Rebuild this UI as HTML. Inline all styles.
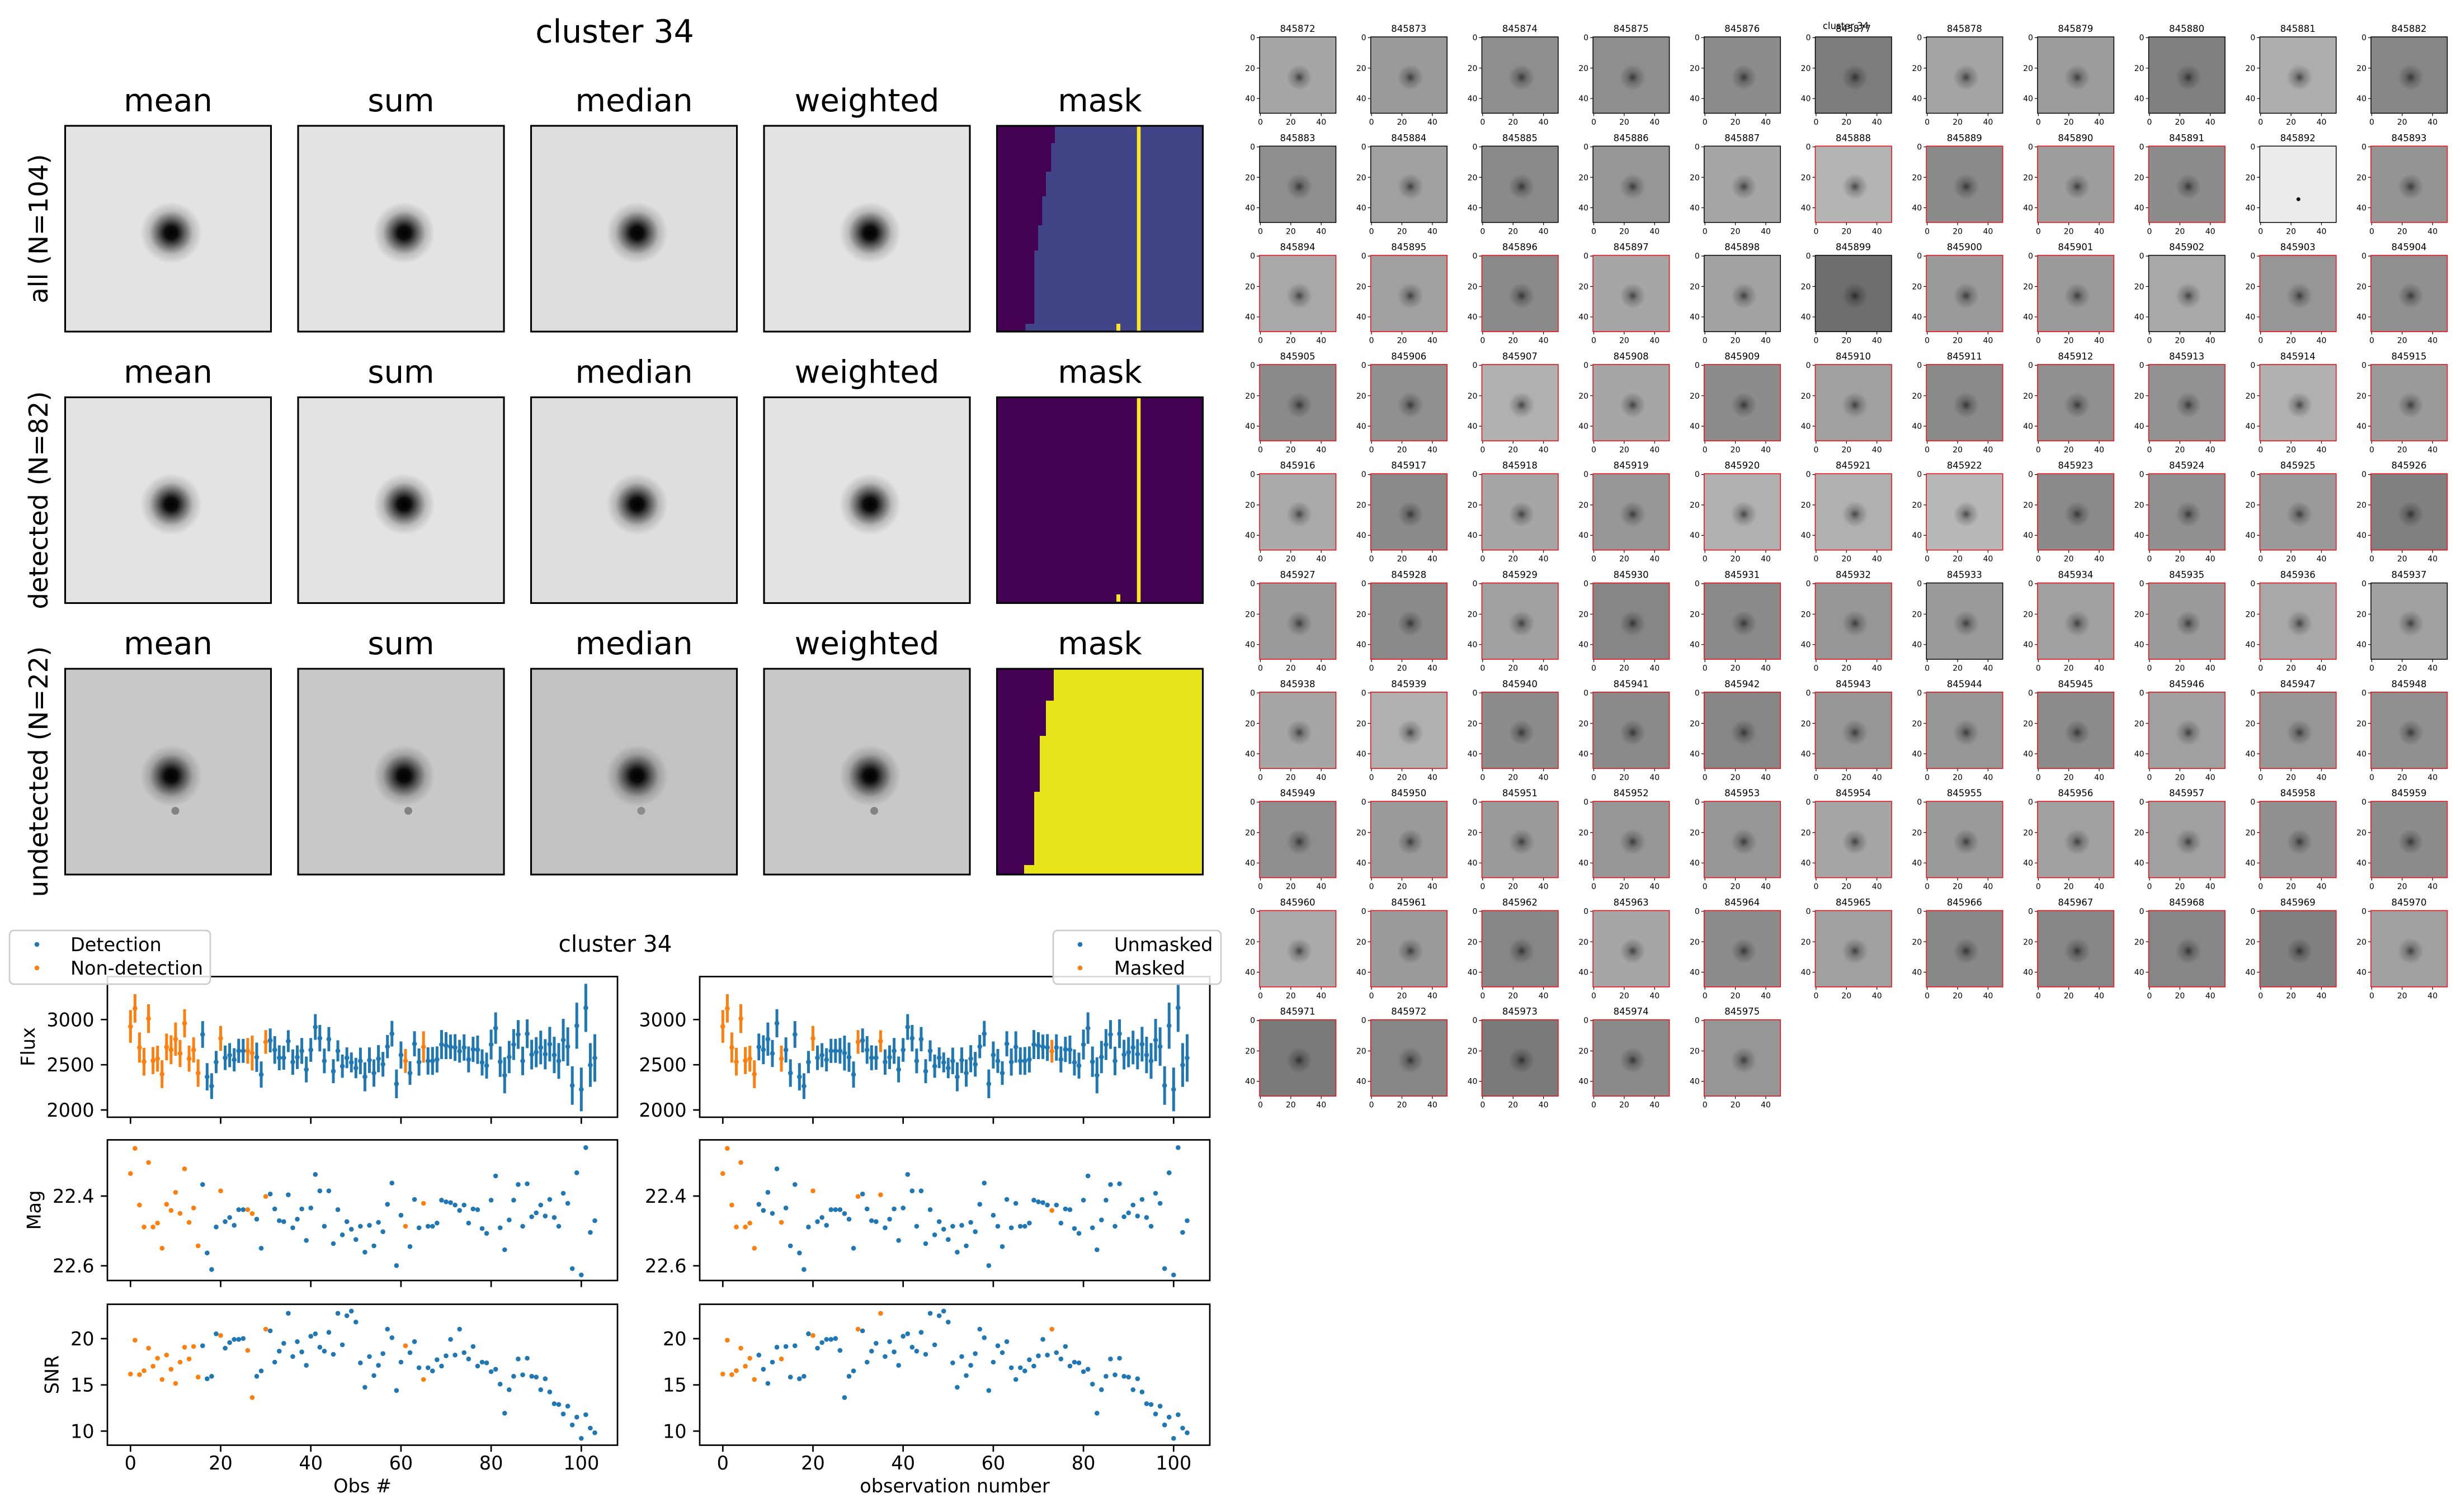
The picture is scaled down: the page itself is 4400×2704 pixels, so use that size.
<!DOCTYPE html>
<html><head><meta charset="utf-8"><style>
html,body{margin:0;padding:0;background:#fff}
svg{display:block}
text{font-family:"DejaVu Sans","Liberation Sans",sans-serif;fill:#000}
.gt{font-size:16.5px;text-anchor:middle}
.gy{font-size:14px;text-anchor:end}
.gx{font-size:14px;text-anchor:middle}
.bt{font-size:56px;text-anchor:middle}
.rl{font-size:46.4px;text-anchor:middle}
.tl{font-size:33.5px;text-anchor:end}
.xl{font-size:33.5px;text-anchor:middle}
.lg{font-size:33.5px}
</style></head><body>
<svg xmlns="http://www.w3.org/2000/svg" width="4400" height="2704" viewBox="0 0 4400 2704">
<defs>
<radialGradient id="sb" cx="0.515" cy="0.52" r="0.15">
<stop offset="0" stop-color="#000"/>
<stop offset="0.2" stop-color="#000" stop-opacity="0.95"/>
<stop offset="0.45" stop-color="#000" stop-opacity="0.55"/>
<stop offset="0.7" stop-color="#000" stop-opacity="0.18"/>
<stop offset="1" stop-color="#000" stop-opacity="0"/>
</radialGradient>
<radialGradient id="bl" cx="0.52" cy="0.53" r="0.17">
<stop offset="0" stop-color="#000" stop-opacity="0.6"/>
<stop offset="0.4" stop-color="#000" stop-opacity="0.25"/>
<stop offset="1" stop-color="#000" stop-opacity="0"/>
</radialGradient>
<rect id="bg" width="136.5" height="136.5"/>
<g id="pk"><rect width="136.5" height="136.5" fill="url(#bl)"/><path d="M0,1.4h-5M0,55.8h-5M0,110.2h-5M1.4,136.5v5M55.8,136.5v5M110.2,136.5v5" stroke="#000" stroke-width="1.2" fill="none"/><rect width="136.5" height="136.5" fill="none" stroke="#000" stroke-width="1.5"/></g>
<g id="pr"><rect width="136.5" height="136.5" fill="url(#bl)"/><path d="M0,1.4h-5M0,55.8h-5M0,110.2h-5M1.4,136.5v5M55.8,136.5v5M110.2,136.5v5" stroke="#000" stroke-width="1.2" fill="none"/><rect width="136.5" height="136.5" fill="none" stroke="#e8141c" stroke-width="1.6"/></g>
<g id="sp"><rect width="368" height="368" fill="url(#sb)"/><rect width="368" height="368" fill="none" stroke="#000" stroke-width="3.1"/></g>
</defs>

<!-- ===== Top-left stacked images ===== -->
<text class="bt" x="1099" y="76" style="font-size:56.8px">cluster 34</text>

<text class="bt" x="300.5" y="199">mean</text>
<text class="bt" x="717" y="199">sum</text>
<text class="bt" x="1133.5" y="199">median</text>
<text class="bt" x="1550" y="199">weighted</text>
<text class="bt" x="1966.5" y="199">mask</text>

<text class="bt" x="300.5" y="684.5">mean</text>
<text class="bt" x="717" y="684.5">sum</text>
<text class="bt" x="1133.5" y="684.5">median</text>
<text class="bt" x="1550" y="684.5">weighted</text>
<text class="bt" x="1966.5" y="684.5">mask</text>

<text class="bt" x="300.5" y="1170">mean</text>
<text class="bt" x="717" y="1170">sum</text>
<text class="bt" x="1133.5" y="1170">median</text>
<text class="bt" x="1550" y="1170">weighted</text>
<text class="bt" x="1966.5" y="1170">mask</text>

<text class="rl" transform="translate(85,409) rotate(-90)">all (N=104)</text>
<text class="rl" transform="translate(85,894.5) rotate(-90)">detected (N=82)</text>
<text class="rl" transform="translate(85,1380) rotate(-90)">undetected (N=22)</text>

<g transform="translate(116.5,225)"><rect width="368" height="368" fill="#e3e3e3"/><use href="#sp"/></g>
<g transform="translate(533,225)"><rect width="368" height="368" fill="#e3e3e3"/><use href="#sp"/></g>
<g transform="translate(949.5,225)"><rect width="368" height="368" fill="#dedede"/><use href="#sp"/></g>
<g transform="translate(1366,225)"><rect width="368" height="368" fill="#e3e3e3"/><use href="#sp"/></g>

<g transform="translate(116.5,710.5)"><rect width="368" height="368" fill="#e3e3e3"/><use href="#sp"/></g>
<g transform="translate(533,710.5)"><rect width="368" height="368" fill="#e3e3e3"/><use href="#sp"/></g>
<g transform="translate(949.5,710.5)"><rect width="368" height="368" fill="#dedede"/><use href="#sp"/></g>
<g transform="translate(1366,710.5)"><rect width="368" height="368" fill="#e3e3e3"/><use href="#sp"/></g>

<g transform="translate(116.5,1196)"><rect width="368" height="368" fill="#c8c8c8"/><circle cx="197" cy="254" r="7" fill="#555" opacity=".6"/><use href="#sp"/></g>
<g transform="translate(533,1196)"><rect width="368" height="368" fill="#c8c8c8"/><circle cx="197" cy="254" r="7" fill="#555" opacity=".6"/><use href="#sp"/></g>
<g transform="translate(949.5,1196)"><rect width="368" height="368" fill="#c2c2c2"/><circle cx="197" cy="254" r="7" fill="#555" opacity=".5"/><use href="#sp"/></g>
<g transform="translate(1366,1196)"><rect width="368" height="368" fill="#c8c8c8"/><circle cx="197" cy="254" r="7" fill="#555" opacity=".6"/><use href="#sp"/></g>

<!-- mask panels -->
<rect x="1782.5" y="225" width="368" height="368" fill="#414487"/>
<polygon fill="#440154" points="1782.5,225 1886,225 1886,256 1879.3,256 1879.3,307 1870,307 1870,351 1863.3,351 1863.3,403 1856,403 1856,448 1849.3,448 1849.3,579 1833.3,579 1833.3,593 1782.5,593"/>
<rect x="2032.7" y="225" width="6.6" height="368" fill="#fde725"/>
<rect x="1996" y="579" width="7" height="13" fill="#fde725"/>
<rect x="1782.5" y="225" width="368" height="368" fill="none" stroke="#000" stroke-width="3.1"/>

<rect x="1782.5" y="710.5" width="368" height="368" fill="#440154"/>
<rect x="2032.7" y="710.5" width="6.6" height="368" fill="#fde725"/>
<rect x="1996" y="1063" width="7" height="13" fill="#fde725"/>
<rect x="1782.5" y="710.5" width="368" height="368" fill="none" stroke="#000" stroke-width="3.1"/>

<rect x="1782.5" y="1196" width="368" height="368" fill="#e7e419"/>
<polygon fill="#440154" points="1782.5,1196 1884,1196 1884,1253 1870,1253 1870,1316 1859,1316 1859,1416 1849,1416 1849,1547 1831,1547 1831,1564 1782.5,1564"/>
<rect x="1782.5" y="1196" width="368" height="368" fill="none" stroke="#000" stroke-width="3.1"/>

<!-- ===== Bottom-left light curves ===== -->
<g id="plots"></g>

<g fill="none" stroke="#000" stroke-width="2.7">
<rect x="192" y="1746.5" width="912" height="251.5"/>
<rect x="192" y="2038.5" width="912" height="251.5"/>
<rect x="192" y="2332.5" width="912" height="252"/>
<rect x="1251" y="1746.5" width="912" height="251.5"/>
<rect x="1251" y="2038.5" width="912" height="251.5"/>
<rect x="1251" y="2332.5" width="912" height="252"/>
<path d="M233.3,1998v11.7M394.5,1998v11.7M555.7,1998v11.7M716.9,1998v11.7M878.1,1998v11.7M1039.3,1998v11.7
M233.3,2290v11.7M394.5,2290v11.7M555.7,2290v11.7M716.9,2290v11.7M878.1,2290v11.7M1039.3,2290v11.7
M233.3,2584.5v11.7M394.5,2584.5v11.7M555.7,2584.5v11.7M716.9,2584.5v11.7M878.1,2584.5v11.7M1039.3,2584.5v11.7
M1292.3,1998v11.7M1453.5,1998v11.7M1614.7,1998v11.7M1775.9,1998v11.7M1937.1,1998v11.7M2098.3,1998v11.7
M1292.3,2290v11.7M1453.5,2290v11.7M1614.7,2290v11.7M1775.9,2290v11.7M1937.1,2290v11.7M2098.3,2290v11.7
M1292.3,2584.5v11.7M1453.5,2584.5v11.7M1614.7,2584.5v11.7M1775.9,2584.5v11.7M1937.1,2584.5v11.7M2098.3,2584.5v11.7
M192,1823.3h-11.7M192,1904.2h-11.7M192,1985h-11.7M192,2139h-11.7M192,2263.7h-11.7M192,2394h-11.7M192,2476.7h-11.7M192,2559.3h-11.7
M1251,1823.3h-11.7M1251,1904.2h-11.7M1251,1985h-11.7M1251,2139h-11.7M1251,2263.7h-11.7M1251,2394h-11.7M1251,2476.7h-11.7M1251,2559.3h-11.7"/>
</g>

<text class="tl" x="168.6" y="1835.3">3000</text>
<text class="tl" x="168.6" y="1916.2">2500</text>
<text class="tl" x="168.6" y="1997">2000</text>
<text class="tl" x="168.6" y="2151">22.4</text>
<text class="tl" x="168.6" y="2275.7">22.6</text>
<text class="tl" x="168.6" y="2406">20</text>
<text class="tl" x="168.6" y="2488.7">15</text>
<text class="tl" x="168.6" y="2571.3">10</text>

<text class="tl" x="1227.6" y="1835.3">3000</text>
<text class="tl" x="1227.6" y="1916.2">2500</text>
<text class="tl" x="1227.6" y="1997">2000</text>
<text class="tl" x="1227.6" y="2151">22.4</text>
<text class="tl" x="1227.6" y="2275.7">22.6</text>
<text class="tl" x="1227.6" y="2406">20</text>
<text class="tl" x="1227.6" y="2488.7">15</text>
<text class="tl" x="1227.6" y="2571.3">10</text>

<text class="xl" x="233.3" y="2628">0</text>
<text class="xl" x="394.5" y="2628">20</text>
<text class="xl" x="555.7" y="2628">40</text>
<text class="xl" x="716.9" y="2628">60</text>
<text class="xl" x="878.1" y="2628">80</text>
<text class="xl" x="1039.3" y="2628">100</text>
<text class="xl" x="1292.3" y="2628">0</text>
<text class="xl" x="1453.5" y="2628">20</text>
<text class="xl" x="1614.7" y="2628">40</text>
<text class="xl" x="1775.9" y="2628">60</text>
<text class="xl" x="1937.1" y="2628">80</text>
<text class="xl" x="2098.3" y="2628">100</text>

<text class="xl" x="648" y="2669">Obs #</text>
<text class="xl" x="1707" y="2669">observation number</text>

<text class="xl" transform="translate(62,1872) rotate(-90)">Flux</text>
<text class="xl" transform="translate(72.5,2164) rotate(-90)">Mag</text>
<text class="xl" transform="translate(104.5,2458.5) rotate(-90)">SNR</text>

<text class="xl" x="1100" y="1702" style="font-size:40.7px">cluster 34</text>

<rect x="17" y="1664" width="359" height="96" rx="8" fill="#fff" fill-opacity="0.85" stroke="#cccccc" stroke-width="2.7"/>
<circle cx="66" cy="1689" r="4.3" fill="#1f77b4"/>
<circle cx="66" cy="1731" r="4.3" fill="#ff7f0e"/>
<text class="lg" x="126" y="1701">Detection</text>
<text class="lg" x="126" y="1743">Non-detection</text>

<rect x="1883" y="1664" width="300" height="96" rx="8" fill="#fff" fill-opacity="0.85" stroke="#cccccc" stroke-width="2.7"/>
<circle cx="1931" cy="1689" r="4.3" fill="#1f77b4"/>
<circle cx="1931" cy="1731" r="4.3" fill="#ff7f0e"/>
<text class="lg" x="1992" y="1701">Unmasked</text>
<text class="lg" x="1992" y="1743">Masked</text>

<!-- ===== Right grid of cutouts ===== -->
<text class="gt" x="3300" y="52">cluster 34</text>

<!-- row 0 -->
<g transform="translate(2252,66)"><use href="#bg" fill="#a6a6a6"/><use href="#pk"/><text class="gt" x="68" y="-9">845872</text><text class="gy"><tspan x="-8" y="6">0</tspan><tspan x="-8" y="61">20</tspan><tspan x="-8" y="115">40</tspan></text><text class="gx" y="157"><tspan x="1.4">0</tspan><tspan x="55.8">20</tspan><tspan x="110.2">40</tspan></text></g>
<g transform="translate(2450.7,66)"><use href="#bg" fill="#9a9a9a"/><use href="#pk"/><text class="gt" x="68" y="-9">845873</text><text class="gy"><tspan x="-8" y="6">0</tspan><tspan x="-8" y="61">20</tspan><tspan x="-8" y="115">40</tspan></text><text class="gx" y="157"><tspan x="1.4">0</tspan><tspan x="55.8">20</tspan><tspan x="110.2">40</tspan></text></g>
<g transform="translate(2649.4,66)"><use href="#bg" fill="#8e8e8e"/><use href="#pk"/><text class="gt" x="68" y="-9">845874</text><text class="gy"><tspan x="-8" y="6">0</tspan><tspan x="-8" y="61">20</tspan><tspan x="-8" y="115">40</tspan></text><text class="gx" y="157"><tspan x="1.4">0</tspan><tspan x="55.8">20</tspan><tspan x="110.2">40</tspan></text></g>
<g transform="translate(2848.1,66)"><use href="#bg" fill="#8e8e8e"/><use href="#pk"/><text class="gt" x="68" y="-9">845875</text><text class="gy"><tspan x="-8" y="6">0</tspan><tspan x="-8" y="61">20</tspan><tspan x="-8" y="115">40</tspan></text><text class="gx" y="157"><tspan x="1.4">0</tspan><tspan x="55.8">20</tspan><tspan x="110.2">40</tspan></text></g>
<g transform="translate(3046.8,66)"><use href="#bg" fill="#8c8c8c"/><use href="#pk"/><text class="gt" x="68" y="-9">845876</text><text class="gy"><tspan x="-8" y="6">0</tspan><tspan x="-8" y="61">20</tspan><tspan x="-8" y="115">40</tspan></text><text class="gx" y="157"><tspan x="1.4">0</tspan><tspan x="55.8">20</tspan><tspan x="110.2">40</tspan></text></g>
<g transform="translate(3245.5,66)"><use href="#bg" fill="#7c7c7c"/><use href="#pk"/><text class="gt" x="68" y="-9">845877</text><text class="gy"><tspan x="-8" y="6">0</tspan><tspan x="-8" y="61">20</tspan><tspan x="-8" y="115">40</tspan></text><text class="gx" y="157"><tspan x="1.4">0</tspan><tspan x="55.8">20</tspan><tspan x="110.2">40</tspan></text></g>
<g transform="translate(3444.2,66)"><use href="#bg" fill="#a4a4a4"/><use href="#pk"/><text class="gt" x="68" y="-9">845878</text><text class="gy"><tspan x="-8" y="6">0</tspan><tspan x="-8" y="61">20</tspan><tspan x="-8" y="115">40</tspan></text><text class="gx" y="157"><tspan x="1.4">0</tspan><tspan x="55.8">20</tspan><tspan x="110.2">40</tspan></text></g>
<g transform="translate(3642.9,66)"><use href="#bg" fill="#9c9c9c"/><use href="#pk"/><text class="gt" x="68" y="-9">845879</text><text class="gy"><tspan x="-8" y="6">0</tspan><tspan x="-8" y="61">20</tspan><tspan x="-8" y="115">40</tspan></text><text class="gx" y="157"><tspan x="1.4">0</tspan><tspan x="55.8">20</tspan><tspan x="110.2">40</tspan></text></g>
<g transform="translate(3841.6,66)"><use href="#bg" fill="#808080"/><use href="#pk"/><text class="gt" x="68" y="-9">845880</text><text class="gy"><tspan x="-8" y="6">0</tspan><tspan x="-8" y="61">20</tspan><tspan x="-8" y="115">40</tspan></text><text class="gx" y="157"><tspan x="1.4">0</tspan><tspan x="55.8">20</tspan><tspan x="110.2">40</tspan></text></g>
<g transform="translate(4040.3,66)"><use href="#bg" fill="#adadad"/><use href="#pk"/><text class="gt" x="68" y="-9">845881</text><text class="gy"><tspan x="-8" y="6">0</tspan><tspan x="-8" y="61">20</tspan><tspan x="-8" y="115">40</tspan></text><text class="gx" y="157"><tspan x="1.4">0</tspan><tspan x="55.8">20</tspan><tspan x="110.2">40</tspan></text></g>
<g transform="translate(4239,66)"><use href="#bg" fill="#868686"/><use href="#pk"/><text class="gt" x="68" y="-9">845882</text><text class="gy"><tspan x="-8" y="6">0</tspan><tspan x="-8" y="61">20</tspan><tspan x="-8" y="115">40</tspan></text><text class="gx" y="157"><tspan x="1.4">0</tspan><tspan x="55.8">20</tspan><tspan x="110.2">40</tspan></text></g>

<!-- row 1 -->
<g transform="translate(2252,261.3)"><use href="#bg" fill="#8e8e8e"/><use href="#pk"/><text class="gt" x="68" y="-9">845883</text><text class="gy"><tspan x="-8" y="6">0</tspan><tspan x="-8" y="61">20</tspan><tspan x="-8" y="115">40</tspan></text><text class="gx" y="157"><tspan x="1.4">0</tspan><tspan x="55.8">20</tspan><tspan x="110.2">40</tspan></text></g>
<g transform="translate(2450.7,261.3)"><use href="#bg" fill="#a0a0a0"/><use href="#pk"/><text class="gt" x="68" y="-9">845884</text><text class="gy"><tspan x="-8" y="6">0</tspan><tspan x="-8" y="61">20</tspan><tspan x="-8" y="115">40</tspan></text><text class="gx" y="157"><tspan x="1.4">0</tspan><tspan x="55.8">20</tspan><tspan x="110.2">40</tspan></text></g>
<g transform="translate(2649.4,261.3)"><use href="#bg" fill="#8a8a8a"/><use href="#pk"/><text class="gt" x="68" y="-9">845885</text><text class="gy"><tspan x="-8" y="6">0</tspan><tspan x="-8" y="61">20</tspan><tspan x="-8" y="115">40</tspan></text><text class="gx" y="157"><tspan x="1.4">0</tspan><tspan x="55.8">20</tspan><tspan x="110.2">40</tspan></text></g>
<g transform="translate(2848.1,261.3)"><use href="#bg" fill="#969696"/><use href="#pk"/><text class="gt" x="68" y="-9">845886</text><text class="gy"><tspan x="-8" y="6">0</tspan><tspan x="-8" y="61">20</tspan><tspan x="-8" y="115">40</tspan></text><text class="gx" y="157"><tspan x="1.4">0</tspan><tspan x="55.8">20</tspan><tspan x="110.2">40</tspan></text></g>
<g transform="translate(3046.8,261.3)"><use href="#bg" fill="#a6a6a6"/><use href="#pk"/><text class="gt" x="68" y="-9">845887</text><text class="gy"><tspan x="-8" y="6">0</tspan><tspan x="-8" y="61">20</tspan><tspan x="-8" y="115">40</tspan></text><text class="gx" y="157"><tspan x="1.4">0</tspan><tspan x="55.8">20</tspan><tspan x="110.2">40</tspan></text></g>
<g transform="translate(3245.5,261.3)"><use href="#bg" fill="#b4b4b4"/><use href="#pr"/><text class="gt" x="68" y="-9">845888</text><text class="gy"><tspan x="-8" y="6">0</tspan><tspan x="-8" y="61">20</tspan><tspan x="-8" y="115">40</tspan></text><text class="gx" y="157"><tspan x="1.4">0</tspan><tspan x="55.8">20</tspan><tspan x="110.2">40</tspan></text></g>
<g transform="translate(3444.2,261.3)"><use href="#bg" fill="#8a8a8a"/><use href="#pr"/><text class="gt" x="68" y="-9">845889</text><text class="gy"><tspan x="-8" y="6">0</tspan><tspan x="-8" y="61">20</tspan><tspan x="-8" y="115">40</tspan></text><text class="gx" y="157"><tspan x="1.4">0</tspan><tspan x="55.8">20</tspan><tspan x="110.2">40</tspan></text></g>
<g transform="translate(3642.9,261.3)"><use href="#bg" fill="#9e9e9e"/><use href="#pr"/><text class="gt" x="68" y="-9">845890</text><text class="gy"><tspan x="-8" y="6">0</tspan><tspan x="-8" y="61">20</tspan><tspan x="-8" y="115">40</tspan></text><text class="gx" y="157"><tspan x="1.4">0</tspan><tspan x="55.8">20</tspan><tspan x="110.2">40</tspan></text></g>
<g transform="translate(3841.6,261.3)"><use href="#bg" fill="#8c8c8c"/><use href="#pr"/><text class="gt" x="68" y="-9">845891</text><text class="gy"><tspan x="-8" y="6">0</tspan><tspan x="-8" y="61">20</tspan><tspan x="-8" y="115">40</tspan></text><text class="gx" y="157"><tspan x="1.4">0</tspan><tspan x="55.8">20</tspan><tspan x="110.2">40</tspan></text></g>
<g transform="translate(4040.3,261.3)"><use href="#bg" fill="#ebebeb"/><circle cx="69" cy="95" r="3.5" fill="#111"/><path d="M0,1.4h-5M0,55.8h-5M0,110.2h-5M1.4,136.5v5M55.8,136.5v5M110.2,136.5v5" stroke="#000" stroke-width="1.2"/><rect width="136.5" height="136.5" fill="none" stroke="#000" stroke-width="1.5"/><text class="gt" x="68" y="-9">845892</text><text class="gy"><tspan x="-8" y="6">0</tspan><tspan x="-8" y="61">20</tspan><tspan x="-8" y="115">40</tspan></text><text class="gx" y="157"><tspan x="1.4">0</tspan><tspan x="55.8">20</tspan><tspan x="110.2">40</tspan></text></g>
<g transform="translate(4239,261.3)"><use href="#bg" fill="#949494"/><use href="#pr"/><text class="gt" x="68" y="-9">845893</text><text class="gy"><tspan x="-8" y="6">0</tspan><tspan x="-8" y="61">20</tspan><tspan x="-8" y="115">40</tspan></text><text class="gx" y="157"><tspan x="1.4">0</tspan><tspan x="55.8">20</tspan><tspan x="110.2">40</tspan></text></g>

<!-- row 2 -->
<g transform="translate(2252,456.6)"><use href="#bg" fill="#a8a8a8"/><use href="#pr"/><text class="gt" x="68" y="-9">845894</text><text class="gy"><tspan x="-8" y="6">0</tspan><tspan x="-8" y="61">20</tspan><tspan x="-8" y="115">40</tspan></text><text class="gx" y="157"><tspan x="1.4">0</tspan><tspan x="55.8">20</tspan><tspan x="110.2">40</tspan></text></g>
<g transform="translate(2450.7,456.6)"><use href="#bg" fill="#a0a0a0"/><use href="#pr"/><text class="gt" x="68" y="-9">845895</text><text class="gy"><tspan x="-8" y="6">0</tspan><tspan x="-8" y="61">20</tspan><tspan x="-8" y="115">40</tspan></text><text class="gx" y="157"><tspan x="1.4">0</tspan><tspan x="55.8">20</tspan><tspan x="110.2">40</tspan></text></g>
<g transform="translate(2649.4,456.6)"><use href="#bg" fill="#8a8a8a"/><use href="#pr"/><text class="gt" x="68" y="-9">845896</text><text class="gy"><tspan x="-8" y="6">0</tspan><tspan x="-8" y="61">20</tspan><tspan x="-8" y="115">40</tspan></text><text class="gx" y="157"><tspan x="1.4">0</tspan><tspan x="55.8">20</tspan><tspan x="110.2">40</tspan></text></g>
<g transform="translate(2848.1,456.6)"><use href="#bg" fill="#a6a6a6"/><use href="#pr"/><text class="gt" x="68" y="-9">845897</text><text class="gy"><tspan x="-8" y="6">0</tspan><tspan x="-8" y="61">20</tspan><tspan x="-8" y="115">40</tspan></text><text class="gx" y="157"><tspan x="1.4">0</tspan><tspan x="55.8">20</tspan><tspan x="110.2">40</tspan></text></g>
<g transform="translate(3046.8,456.6)"><use href="#bg" fill="#a2a2a2"/><use href="#pk"/><text class="gt" x="68" y="-9">845898</text><text class="gy"><tspan x="-8" y="6">0</tspan><tspan x="-8" y="61">20</tspan><tspan x="-8" y="115">40</tspan></text><text class="gx" y="157"><tspan x="1.4">0</tspan><tspan x="55.8">20</tspan><tspan x="110.2">40</tspan></text></g>
<g transform="translate(3245.5,456.6)"><use href="#bg" fill="#6e6e6e"/><use href="#pk"/><text class="gt" x="68" y="-9">845899</text><text class="gy"><tspan x="-8" y="6">0</tspan><tspan x="-8" y="61">20</tspan><tspan x="-8" y="115">40</tspan></text><text class="gx" y="157"><tspan x="1.4">0</tspan><tspan x="55.8">20</tspan><tspan x="110.2">40</tspan></text></g>
<g transform="translate(3444.2,456.6)"><use href="#bg" fill="#9a9a9a"/><use href="#pr"/><text class="gt" x="68" y="-9">845900</text><text class="gy"><tspan x="-8" y="6">0</tspan><tspan x="-8" y="61">20</tspan><tspan x="-8" y="115">40</tspan></text><text class="gx" y="157"><tspan x="1.4">0</tspan><tspan x="55.8">20</tspan><tspan x="110.2">40</tspan></text></g>
<g transform="translate(3642.9,456.6)"><use href="#bg" fill="#9a9a9a"/><use href="#pr"/><text class="gt" x="68" y="-9">845901</text><text class="gy"><tspan x="-8" y="6">0</tspan><tspan x="-8" y="61">20</tspan><tspan x="-8" y="115">40</tspan></text><text class="gx" y="157"><tspan x="1.4">0</tspan><tspan x="55.8">20</tspan><tspan x="110.2">40</tspan></text></g>
<g transform="translate(3841.6,456.6)"><use href="#bg" fill="#a8a8a8"/><use href="#pk"/><text class="gt" x="68" y="-9">845902</text><text class="gy"><tspan x="-8" y="6">0</tspan><tspan x="-8" y="61">20</tspan><tspan x="-8" y="115">40</tspan></text><text class="gx" y="157"><tspan x="1.4">0</tspan><tspan x="55.8">20</tspan><tspan x="110.2">40</tspan></text></g>
<g transform="translate(4040.3,456.6)"><use href="#bg" fill="#969696"/><use href="#pr"/><text class="gt" x="68" y="-9">845903</text><text class="gy"><tspan x="-8" y="6">0</tspan><tspan x="-8" y="61">20</tspan><tspan x="-8" y="115">40</tspan></text><text class="gx" y="157"><tspan x="1.4">0</tspan><tspan x="55.8">20</tspan><tspan x="110.2">40</tspan></text></g>
<g transform="translate(4239,456.6)"><use href="#bg" fill="#909090"/><use href="#pr"/><text class="gt" x="68" y="-9">845904</text><text class="gy"><tspan x="-8" y="6">0</tspan><tspan x="-8" y="61">20</tspan><tspan x="-8" y="115">40</tspan></text><text class="gx" y="157"><tspan x="1.4">0</tspan><tspan x="55.8">20</tspan><tspan x="110.2">40</tspan></text></g>

<!-- row 3 -->
<g transform="translate(2252,651.9)"><use href="#bg" fill="#8a8a8a"/><use href="#pr"/><text class="gt" x="68" y="-9">845905</text><text class="gy"><tspan x="-8" y="6">0</tspan><tspan x="-8" y="61">20</tspan><tspan x="-8" y="115">40</tspan></text><text class="gx" y="157"><tspan x="1.4">0</tspan><tspan x="55.8">20</tspan><tspan x="110.2">40</tspan></text></g>
<g transform="translate(2450.7,651.9)"><use href="#bg" fill="#909090"/><use href="#pr"/><text class="gt" x="68" y="-9">845906</text><text class="gy"><tspan x="-8" y="6">0</tspan><tspan x="-8" y="61">20</tspan><tspan x="-8" y="115">40</tspan></text><text class="gx" y="157"><tspan x="1.4">0</tspan><tspan x="55.8">20</tspan><tspan x="110.2">40</tspan></text></g>
<g transform="translate(2649.4,651.9)"><use href="#bg" fill="#b0b0b0"/><use href="#pr"/><text class="gt" x="68" y="-9">845907</text><text class="gy"><tspan x="-8" y="6">0</tspan><tspan x="-8" y="61">20</tspan><tspan x="-8" y="115">40</tspan></text><text class="gx" y="157"><tspan x="1.4">0</tspan><tspan x="55.8">20</tspan><tspan x="110.2">40</tspan></text></g>
<g transform="translate(2848.1,651.9)"><use href="#bg" fill="#a6a6a6"/><use href="#pr"/><text class="gt" x="68" y="-9">845908</text><text class="gy"><tspan x="-8" y="6">0</tspan><tspan x="-8" y="61">20</tspan><tspan x="-8" y="115">40</tspan></text><text class="gx" y="157"><tspan x="1.4">0</tspan><tspan x="55.8">20</tspan><tspan x="110.2">40</tspan></text></g>
<g transform="translate(3046.8,651.9)"><use href="#bg" fill="#8c8c8c"/><use href="#pr"/><text class="gt" x="68" y="-9">845909</text><text class="gy"><tspan x="-8" y="6">0</tspan><tspan x="-8" y="61">20</tspan><tspan x="-8" y="115">40</tspan></text><text class="gx" y="157"><tspan x="1.4">0</tspan><tspan x="55.8">20</tspan><tspan x="110.2">40</tspan></text></g>
<g transform="translate(3245.5,651.9)"><use href="#bg" fill="#a0a0a0"/><use href="#pr"/><text class="gt" x="68" y="-9">845910</text><text class="gy"><tspan x="-8" y="6">0</tspan><tspan x="-8" y="61">20</tspan><tspan x="-8" y="115">40</tspan></text><text class="gx" y="157"><tspan x="1.4">0</tspan><tspan x="55.8">20</tspan><tspan x="110.2">40</tspan></text></g>
<g transform="translate(3444.2,651.9)"><use href="#bg" fill="#8a8a8a"/><use href="#pr"/><text class="gt" x="68" y="-9">845911</text><text class="gy"><tspan x="-8" y="6">0</tspan><tspan x="-8" y="61">20</tspan><tspan x="-8" y="115">40</tspan></text><text class="gx" y="157"><tspan x="1.4">0</tspan><tspan x="55.8">20</tspan><tspan x="110.2">40</tspan></text></g>
<g transform="translate(3642.9,651.9)"><use href="#bg" fill="#909090"/><use href="#pr"/><text class="gt" x="68" y="-9">845912</text><text class="gy"><tspan x="-8" y="6">0</tspan><tspan x="-8" y="61">20</tspan><tspan x="-8" y="115">40</tspan></text><text class="gx" y="157"><tspan x="1.4">0</tspan><tspan x="55.8">20</tspan><tspan x="110.2">40</tspan></text></g>
<g transform="translate(3841.6,651.9)"><use href="#bg" fill="#929292"/><use href="#pr"/><text class="gt" x="68" y="-9">845913</text><text class="gy"><tspan x="-8" y="6">0</tspan><tspan x="-8" y="61">20</tspan><tspan x="-8" y="115">40</tspan></text><text class="gx" y="157"><tspan x="1.4">0</tspan><tspan x="55.8">20</tspan><tspan x="110.2">40</tspan></text></g>
<g transform="translate(4040.3,651.9)"><use href="#bg" fill="#b0b0b0"/><use href="#pr"/><text class="gt" x="68" y="-9">845914</text><text class="gy"><tspan x="-8" y="6">0</tspan><tspan x="-8" y="61">20</tspan><tspan x="-8" y="115">40</tspan></text><text class="gx" y="157"><tspan x="1.4">0</tspan><tspan x="55.8">20</tspan><tspan x="110.2">40</tspan></text></g>
<g transform="translate(4239,651.9)"><use href="#bg" fill="#9a9a9a"/><use href="#pr"/><text class="gt" x="68" y="-9">845915</text><text class="gy"><tspan x="-8" y="6">0</tspan><tspan x="-8" y="61">20</tspan><tspan x="-8" y="115">40</tspan></text><text class="gx" y="157"><tspan x="1.4">0</tspan><tspan x="55.8">20</tspan><tspan x="110.2">40</tspan></text></g>

<!-- row 4 -->
<g transform="translate(2252,847.2)"><use href="#bg" fill="#aaaaaa"/><use href="#pr"/><text class="gt" x="68" y="-9">845916</text><text class="gy"><tspan x="-8" y="6">0</tspan><tspan x="-8" y="61">20</tspan><tspan x="-8" y="115">40</tspan></text><text class="gx" y="157"><tspan x="1.4">0</tspan><tspan x="55.8">20</tspan><tspan x="110.2">40</tspan></text></g>
<g transform="translate(2450.7,847.2)"><use href="#bg" fill="#8a8a8a"/><use href="#pr"/><text class="gt" x="68" y="-9">845917</text><text class="gy"><tspan x="-8" y="6">0</tspan><tspan x="-8" y="61">20</tspan><tspan x="-8" y="115">40</tspan></text><text class="gx" y="157"><tspan x="1.4">0</tspan><tspan x="55.8">20</tspan><tspan x="110.2">40</tspan></text></g>
<g transform="translate(2649.4,847.2)"><use href="#bg" fill="#a6a6a6"/><use href="#pr"/><text class="gt" x="68" y="-9">845918</text><text class="gy"><tspan x="-8" y="6">0</tspan><tspan x="-8" y="61">20</tspan><tspan x="-8" y="115">40</tspan></text><text class="gx" y="157"><tspan x="1.4">0</tspan><tspan x="55.8">20</tspan><tspan x="110.2">40</tspan></text></g>
<g transform="translate(2848.1,847.2)"><use href="#bg" fill="#969696"/><use href="#pr"/><text class="gt" x="68" y="-9">845919</text><text class="gy"><tspan x="-8" y="6">0</tspan><tspan x="-8" y="61">20</tspan><tspan x="-8" y="115">40</tspan></text><text class="gx" y="157"><tspan x="1.4">0</tspan><tspan x="55.8">20</tspan><tspan x="110.2">40</tspan></text></g>
<g transform="translate(3046.8,847.2)"><use href="#bg" fill="#b0b0b0"/><use href="#pr"/><text class="gt" x="68" y="-9">845920</text><text class="gy"><tspan x="-8" y="6">0</tspan><tspan x="-8" y="61">20</tspan><tspan x="-8" y="115">40</tspan></text><text class="gx" y="157"><tspan x="1.4">0</tspan><tspan x="55.8">20</tspan><tspan x="110.2">40</tspan></text></g>
<g transform="translate(3245.5,847.2)"><use href="#bg" fill="#b0b0b0"/><use href="#pr"/><text class="gt" x="68" y="-9">845921</text><text class="gy"><tspan x="-8" y="6">0</tspan><tspan x="-8" y="61">20</tspan><tspan x="-8" y="115">40</tspan></text><text class="gx" y="157"><tspan x="1.4">0</tspan><tspan x="55.8">20</tspan><tspan x="110.2">40</tspan></text></g>
<g transform="translate(3444.2,847.2)"><use href="#bg" fill="#b8b8b8"/><use href="#pr"/><text class="gt" x="68" y="-9">845922</text><text class="gy"><tspan x="-8" y="6">0</tspan><tspan x="-8" y="61">20</tspan><tspan x="-8" y="115">40</tspan></text><text class="gx" y="157"><tspan x="1.4">0</tspan><tspan x="55.8">20</tspan><tspan x="110.2">40</tspan></text></g>
<g transform="translate(3642.9,847.2)"><use href="#bg" fill="#8a8a8a"/><use href="#pr"/><text class="gt" x="68" y="-9">845923</text><text class="gy"><tspan x="-8" y="6">0</tspan><tspan x="-8" y="61">20</tspan><tspan x="-8" y="115">40</tspan></text><text class="gx" y="157"><tspan x="1.4">0</tspan><tspan x="55.8">20</tspan><tspan x="110.2">40</tspan></text></g>
<g transform="translate(3841.6,847.2)"><use href="#bg" fill="#909090"/><use href="#pr"/><text class="gt" x="68" y="-9">845924</text><text class="gy"><tspan x="-8" y="6">0</tspan><tspan x="-8" y="61">20</tspan><tspan x="-8" y="115">40</tspan></text><text class="gx" y="157"><tspan x="1.4">0</tspan><tspan x="55.8">20</tspan><tspan x="110.2">40</tspan></text></g>
<g transform="translate(4040.3,847.2)"><use href="#bg" fill="#9a9a9a"/><use href="#pr"/><text class="gt" x="68" y="-9">845925</text><text class="gy"><tspan x="-8" y="6">0</tspan><tspan x="-8" y="61">20</tspan><tspan x="-8" y="115">40</tspan></text><text class="gx" y="157"><tspan x="1.4">0</tspan><tspan x="55.8">20</tspan><tspan x="110.2">40</tspan></text></g>
<g transform="translate(4239,847.2)"><use href="#bg" fill="#808080"/><use href="#pr"/><text class="gt" x="68" y="-9">845926</text><text class="gy"><tspan x="-8" y="6">0</tspan><tspan x="-8" y="61">20</tspan><tspan x="-8" y="115">40</tspan></text><text class="gx" y="157"><tspan x="1.4">0</tspan><tspan x="55.8">20</tspan><tspan x="110.2">40</tspan></text></g>

<!-- row 5 -->
<g transform="translate(2252,1042.5)"><use href="#bg" fill="#9a9a9a"/><use href="#pr"/><text class="gt" x="68" y="-9">845927</text><text class="gy"><tspan x="-8" y="6">0</tspan><tspan x="-8" y="61">20</tspan><tspan x="-8" y="115">40</tspan></text><text class="gx" y="157"><tspan x="1.4">0</tspan><tspan x="55.8">20</tspan><tspan x="110.2">40</tspan></text></g>
<g transform="translate(2450.7,1042.5)"><use href="#bg" fill="#8a8a8a"/><use href="#pr"/><text class="gt" x="68" y="-9">845928</text><text class="gy"><tspan x="-8" y="6">0</tspan><tspan x="-8" y="61">20</tspan><tspan x="-8" y="115">40</tspan></text><text class="gx" y="157"><tspan x="1.4">0</tspan><tspan x="55.8">20</tspan><tspan x="110.2">40</tspan></text></g>
<g transform="translate(2649.4,1042.5)"><use href="#bg" fill="#a0a0a0"/><use href="#pr"/><text class="gt" x="68" y="-9">845929</text><text class="gy"><tspan x="-8" y="6">0</tspan><tspan x="-8" y="61">20</tspan><tspan x="-8" y="115">40</tspan></text><text class="gx" y="157"><tspan x="1.4">0</tspan><tspan x="55.8">20</tspan><tspan x="110.2">40</tspan></text></g>
<g transform="translate(2848.1,1042.5)"><use href="#bg" fill="#868686"/><use href="#pr"/><text class="gt" x="68" y="-9">845930</text><text class="gy"><tspan x="-8" y="6">0</tspan><tspan x="-8" y="61">20</tspan><tspan x="-8" y="115">40</tspan></text><text class="gx" y="157"><tspan x="1.4">0</tspan><tspan x="55.8">20</tspan><tspan x="110.2">40</tspan></text></g>
<g transform="translate(3046.8,1042.5)"><use href="#bg" fill="#8a8a8a"/><use href="#pr"/><text class="gt" x="68" y="-9">845931</text><text class="gy"><tspan x="-8" y="6">0</tspan><tspan x="-8" y="61">20</tspan><tspan x="-8" y="115">40</tspan></text><text class="gx" y="157"><tspan x="1.4">0</tspan><tspan x="55.8">20</tspan><tspan x="110.2">40</tspan></text></g>
<g transform="translate(3245.5,1042.5)"><use href="#bg" fill="#969696"/><use href="#pr"/><text class="gt" x="68" y="-9">845932</text><text class="gy"><tspan x="-8" y="6">0</tspan><tspan x="-8" y="61">20</tspan><tspan x="-8" y="115">40</tspan></text><text class="gx" y="157"><tspan x="1.4">0</tspan><tspan x="55.8">20</tspan><tspan x="110.2">40</tspan></text></g>
<g transform="translate(3444.2,1042.5)"><use href="#bg" fill="#9a9a9a"/><use href="#pk"/><text class="gt" x="68" y="-9">845933</text><text class="gy"><tspan x="-8" y="6">0</tspan><tspan x="-8" y="61">20</tspan><tspan x="-8" y="115">40</tspan></text><text class="gx" y="157"><tspan x="1.4">0</tspan><tspan x="55.8">20</tspan><tspan x="110.2">40</tspan></text></g>
<g transform="translate(3642.9,1042.5)"><use href="#bg" fill="#a0a0a0"/><use href="#pr"/><text class="gt" x="68" y="-9">845934</text><text class="gy"><tspan x="-8" y="6">0</tspan><tspan x="-8" y="61">20</tspan><tspan x="-8" y="115">40</tspan></text><text class="gx" y="157"><tspan x="1.4">0</tspan><tspan x="55.8">20</tspan><tspan x="110.2">40</tspan></text></g>
<g transform="translate(3841.6,1042.5)"><use href="#bg" fill="#9a9a9a"/><use href="#pr"/><text class="gt" x="68" y="-9">845935</text><text class="gy"><tspan x="-8" y="6">0</tspan><tspan x="-8" y="61">20</tspan><tspan x="-8" y="115">40</tspan></text><text class="gx" y="157"><tspan x="1.4">0</tspan><tspan x="55.8">20</tspan><tspan x="110.2">40</tspan></text></g>
<g transform="translate(4040.3,1042.5)"><use href="#bg" fill="#a8a8a8"/><use href="#pr"/><text class="gt" x="68" y="-9">845936</text><text class="gy"><tspan x="-8" y="6">0</tspan><tspan x="-8" y="61">20</tspan><tspan x="-8" y="115">40</tspan></text><text class="gx" y="157"><tspan x="1.4">0</tspan><tspan x="55.8">20</tspan><tspan x="110.2">40</tspan></text></g>
<g transform="translate(4239,1042.5)"><use href="#bg" fill="#a0a0a0"/><use href="#pk"/><text class="gt" x="68" y="-9">845937</text><text class="gy"><tspan x="-8" y="6">0</tspan><tspan x="-8" y="61">20</tspan><tspan x="-8" y="115">40</tspan></text><text class="gx" y="157"><tspan x="1.4">0</tspan><tspan x="55.8">20</tspan><tspan x="110.2">40</tspan></text></g>

<!-- row 6 -->
<g transform="translate(2252,1237.8)"><use href="#bg" fill="#a6a6a6"/><use href="#pr"/><text class="gt" x="68" y="-9">845938</text><text class="gy"><tspan x="-8" y="6">0</tspan><tspan x="-8" y="61">20</tspan><tspan x="-8" y="115">40</tspan></text><text class="gx" y="157"><tspan x="1.4">0</tspan><tspan x="55.8">20</tspan><tspan x="110.2">40</tspan></text></g>
<g transform="translate(2450.7,1237.8)"><use href="#bg" fill="#b0b0b0"/><use href="#pr"/><text class="gt" x="68" y="-9">845939</text><text class="gy"><tspan x="-8" y="6">0</tspan><tspan x="-8" y="61">20</tspan><tspan x="-8" y="115">40</tspan></text><text class="gx" y="157"><tspan x="1.4">0</tspan><tspan x="55.8">20</tspan><tspan x="110.2">40</tspan></text></g>
<g transform="translate(2649.4,1237.8)"><use href="#bg" fill="#8c8c8c"/><use href="#pr"/><text class="gt" x="68" y="-9">845940</text><text class="gy"><tspan x="-8" y="6">0</tspan><tspan x="-8" y="61">20</tspan><tspan x="-8" y="115">40</tspan></text><text class="gx" y="157"><tspan x="1.4">0</tspan><tspan x="55.8">20</tspan><tspan x="110.2">40</tspan></text></g>
<g transform="translate(2848.1,1237.8)"><use href="#bg" fill="#8a8a8a"/><use href="#pr"/><text class="gt" x="68" y="-9">845941</text><text class="gy"><tspan x="-8" y="6">0</tspan><tspan x="-8" y="61">20</tspan><tspan x="-8" y="115">40</tspan></text><text class="gx" y="157"><tspan x="1.4">0</tspan><tspan x="55.8">20</tspan><tspan x="110.2">40</tspan></text></g>
<g transform="translate(3046.8,1237.8)"><use href="#bg" fill="#868686"/><use href="#pr"/><text class="gt" x="68" y="-9">845942</text><text class="gy"><tspan x="-8" y="6">0</tspan><tspan x="-8" y="61">20</tspan><tspan x="-8" y="115">40</tspan></text><text class="gx" y="157"><tspan x="1.4">0</tspan><tspan x="55.8">20</tspan><tspan x="110.2">40</tspan></text></g>
<g transform="translate(3245.5,1237.8)"><use href="#bg" fill="#969696"/><use href="#pr"/><text class="gt" x="68" y="-9">845943</text><text class="gy"><tspan x="-8" y="6">0</tspan><tspan x="-8" y="61">20</tspan><tspan x="-8" y="115">40</tspan></text><text class="gx" y="157"><tspan x="1.4">0</tspan><tspan x="55.8">20</tspan><tspan x="110.2">40</tspan></text></g>
<g transform="translate(3444.2,1237.8)"><use href="#bg" fill="#969696"/><use href="#pr"/><text class="gt" x="68" y="-9">845944</text><text class="gy"><tspan x="-8" y="6">0</tspan><tspan x="-8" y="61">20</tspan><tspan x="-8" y="115">40</tspan></text><text class="gx" y="157"><tspan x="1.4">0</tspan><tspan x="55.8">20</tspan><tspan x="110.2">40</tspan></text></g>
<g transform="translate(3642.9,1237.8)"><use href="#bg" fill="#8c8c8c"/><use href="#pr"/><text class="gt" x="68" y="-9">845945</text><text class="gy"><tspan x="-8" y="6">0</tspan><tspan x="-8" y="61">20</tspan><tspan x="-8" y="115">40</tspan></text><text class="gx" y="157"><tspan x="1.4">0</tspan><tspan x="55.8">20</tspan><tspan x="110.2">40</tspan></text></g>
<g transform="translate(3841.6,1237.8)"><use href="#bg" fill="#a0a0a0"/><use href="#pr"/><text class="gt" x="68" y="-9">845946</text><text class="gy"><tspan x="-8" y="6">0</tspan><tspan x="-8" y="61">20</tspan><tspan x="-8" y="115">40</tspan></text><text class="gx" y="157"><tspan x="1.4">0</tspan><tspan x="55.8">20</tspan><tspan x="110.2">40</tspan></text></g>
<g transform="translate(4040.3,1237.8)"><use href="#bg" fill="#969696"/><use href="#pr"/><text class="gt" x="68" y="-9">845947</text><text class="gy"><tspan x="-8" y="6">0</tspan><tspan x="-8" y="61">20</tspan><tspan x="-8" y="115">40</tspan></text><text class="gx" y="157"><tspan x="1.4">0</tspan><tspan x="55.8">20</tspan><tspan x="110.2">40</tspan></text></g>
<g transform="translate(4239,1237.8)"><use href="#bg" fill="#909090"/><use href="#pr"/><text class="gt" x="68" y="-9">845948</text><text class="gy"><tspan x="-8" y="6">0</tspan><tspan x="-8" y="61">20</tspan><tspan x="-8" y="115">40</tspan></text><text class="gx" y="157"><tspan x="1.4">0</tspan><tspan x="55.8">20</tspan><tspan x="110.2">40</tspan></text></g>

<!-- row 7 -->
<g transform="translate(2252,1433.1)"><use href="#bg" fill="#8e8e8e"/><use href="#pr"/><text class="gt" x="68" y="-9">845949</text><text class="gy"><tspan x="-8" y="6">0</tspan><tspan x="-8" y="61">20</tspan><tspan x="-8" y="115">40</tspan></text><text class="gx" y="157"><tspan x="1.4">0</tspan><tspan x="55.8">20</tspan><tspan x="110.2">40</tspan></text></g>
<g transform="translate(2450.7,1433.1)"><use href="#bg" fill="#9a9a9a"/><use href="#pr"/><text class="gt" x="68" y="-9">845950</text><text class="gy"><tspan x="-8" y="6">0</tspan><tspan x="-8" y="61">20</tspan><tspan x="-8" y="115">40</tspan></text><text class="gx" y="157"><tspan x="1.4">0</tspan><tspan x="55.8">20</tspan><tspan x="110.2">40</tspan></text></g>
<g transform="translate(2649.4,1433.1)"><use href="#bg" fill="#9a9a9a"/><use href="#pr"/><text class="gt" x="68" y="-9">845951</text><text class="gy"><tspan x="-8" y="6">0</tspan><tspan x="-8" y="61">20</tspan><tspan x="-8" y="115">40</tspan></text><text class="gx" y="157"><tspan x="1.4">0</tspan><tspan x="55.8">20</tspan><tspan x="110.2">40</tspan></text></g>
<g transform="translate(2848.1,1433.1)"><use href="#bg" fill="#969696"/><use href="#pr"/><text class="gt" x="68" y="-9">845952</text><text class="gy"><tspan x="-8" y="6">0</tspan><tspan x="-8" y="61">20</tspan><tspan x="-8" y="115">40</tspan></text><text class="gx" y="157"><tspan x="1.4">0</tspan><tspan x="55.8">20</tspan><tspan x="110.2">40</tspan></text></g>
<g transform="translate(3046.8,1433.1)"><use href="#bg" fill="#969696"/><use href="#pr"/><text class="gt" x="68" y="-9">845953</text><text class="gy"><tspan x="-8" y="6">0</tspan><tspan x="-8" y="61">20</tspan><tspan x="-8" y="115">40</tspan></text><text class="gx" y="157"><tspan x="1.4">0</tspan><tspan x="55.8">20</tspan><tspan x="110.2">40</tspan></text></g>
<g transform="translate(3245.5,1433.1)"><use href="#bg" fill="#a6a6a6"/><use href="#pr"/><text class="gt" x="68" y="-9">845954</text><text class="gy"><tspan x="-8" y="6">0</tspan><tspan x="-8" y="61">20</tspan><tspan x="-8" y="115">40</tspan></text><text class="gx" y="157"><tspan x="1.4">0</tspan><tspan x="55.8">20</tspan><tspan x="110.2">40</tspan></text></g>
<g transform="translate(3444.2,1433.1)"><use href="#bg" fill="#9a9a9a"/><use href="#pr"/><text class="gt" x="68" y="-9">845955</text><text class="gy"><tspan x="-8" y="6">0</tspan><tspan x="-8" y="61">20</tspan><tspan x="-8" y="115">40</tspan></text><text class="gx" y="157"><tspan x="1.4">0</tspan><tspan x="55.8">20</tspan><tspan x="110.2">40</tspan></text></g>
<g transform="translate(3642.9,1433.1)"><use href="#bg" fill="#a0a0a0"/><use href="#pr"/><text class="gt" x="68" y="-9">845956</text><text class="gy"><tspan x="-8" y="6">0</tspan><tspan x="-8" y="61">20</tspan><tspan x="-8" y="115">40</tspan></text><text class="gx" y="157"><tspan x="1.4">0</tspan><tspan x="55.8">20</tspan><tspan x="110.2">40</tspan></text></g>
<g transform="translate(3841.6,1433.1)"><use href="#bg" fill="#a0a0a0"/><use href="#pr"/><text class="gt" x="68" y="-9">845957</text><text class="gy"><tspan x="-8" y="6">0</tspan><tspan x="-8" y="61">20</tspan><tspan x="-8" y="115">40</tspan></text><text class="gx" y="157"><tspan x="1.4">0</tspan><tspan x="55.8">20</tspan><tspan x="110.2">40</tspan></text></g>
<g transform="translate(4040.3,1433.1)"><use href="#bg" fill="#909090"/><use href="#pr"/><text class="gt" x="68" y="-9">845958</text><text class="gy"><tspan x="-8" y="6">0</tspan><tspan x="-8" y="61">20</tspan><tspan x="-8" y="115">40</tspan></text><text class="gx" y="157"><tspan x="1.4">0</tspan><tspan x="55.8">20</tspan><tspan x="110.2">40</tspan></text></g>
<g transform="translate(4239,1433.1)"><use href="#bg" fill="#8c8c8c"/><use href="#pr"/><text class="gt" x="68" y="-9">845959</text><text class="gy"><tspan x="-8" y="6">0</tspan><tspan x="-8" y="61">20</tspan><tspan x="-8" y="115">40</tspan></text><text class="gx" y="157"><tspan x="1.4">0</tspan><tspan x="55.8">20</tspan><tspan x="110.2">40</tspan></text></g>

<!-- row 8 -->
<g transform="translate(2252,1628.4)"><use href="#bg" fill="#aaaaaa"/><use href="#pr"/><text class="gt" x="68" y="-9">845960</text><text class="gy"><tspan x="-8" y="6">0</tspan><tspan x="-8" y="61">20</tspan><tspan x="-8" y="115">40</tspan></text><text class="gx" y="157"><tspan x="1.4">0</tspan><tspan x="55.8">20</tspan><tspan x="110.2">40</tspan></text></g>
<g transform="translate(2450.7,1628.4)"><use href="#bg" fill="#9a9a9a"/><use href="#pr"/><text class="gt" x="68" y="-9">845961</text><text class="gy"><tspan x="-8" y="6">0</tspan><tspan x="-8" y="61">20</tspan><tspan x="-8" y="115">40</tspan></text><text class="gx" y="157"><tspan x="1.4">0</tspan><tspan x="55.8">20</tspan><tspan x="110.2">40</tspan></text></g>
<g transform="translate(2649.4,1628.4)"><use href="#bg" fill="#868686"/><use href="#pr"/><text class="gt" x="68" y="-9">845962</text><text class="gy"><tspan x="-8" y="6">0</tspan><tspan x="-8" y="61">20</tspan><tspan x="-8" y="115">40</tspan></text><text class="gx" y="157"><tspan x="1.4">0</tspan><tspan x="55.8">20</tspan><tspan x="110.2">40</tspan></text></g>
<g transform="translate(2848.1,1628.4)"><use href="#bg" fill="#a6a6a6"/><use href="#pr"/><text class="gt" x="68" y="-9">845963</text><text class="gy"><tspan x="-8" y="6">0</tspan><tspan x="-8" y="61">20</tspan><tspan x="-8" y="115">40</tspan></text><text class="gx" y="157"><tspan x="1.4">0</tspan><tspan x="55.8">20</tspan><tspan x="110.2">40</tspan></text></g>
<g transform="translate(3046.8,1628.4)"><use href="#bg" fill="#8c8c8c"/><use href="#pr"/><text class="gt" x="68" y="-9">845964</text><text class="gy"><tspan x="-8" y="6">0</tspan><tspan x="-8" y="61">20</tspan><tspan x="-8" y="115">40</tspan></text><text class="gx" y="157"><tspan x="1.4">0</tspan><tspan x="55.8">20</tspan><tspan x="110.2">40</tspan></text></g>
<g transform="translate(3245.5,1628.4)"><use href="#bg" fill="#a0a0a0"/><use href="#pr"/><text class="gt" x="68" y="-9">845965</text><text class="gy"><tspan x="-8" y="6">0</tspan><tspan x="-8" y="61">20</tspan><tspan x="-8" y="115">40</tspan></text><text class="gx" y="157"><tspan x="1.4">0</tspan><tspan x="55.8">20</tspan><tspan x="110.2">40</tspan></text></g>
<g transform="translate(3444.2,1628.4)"><use href="#bg" fill="#888888"/><use href="#pr"/><text class="gt" x="68" y="-9">845966</text><text class="gy"><tspan x="-8" y="6">0</tspan><tspan x="-8" y="61">20</tspan><tspan x="-8" y="115">40</tspan></text><text class="gx" y="157"><tspan x="1.4">0</tspan><tspan x="55.8">20</tspan><tspan x="110.2">40</tspan></text></g>
<g transform="translate(3642.9,1628.4)"><use href="#bg" fill="#868686"/><use href="#pr"/><text class="gt" x="68" y="-9">845967</text><text class="gy"><tspan x="-8" y="6">0</tspan><tspan x="-8" y="61">20</tspan><tspan x="-8" y="115">40</tspan></text><text class="gx" y="157"><tspan x="1.4">0</tspan><tspan x="55.8">20</tspan><tspan x="110.2">40</tspan></text></g>
<g transform="translate(3841.6,1628.4)"><use href="#bg" fill="#868686"/><use href="#pr"/><text class="gt" x="68" y="-9">845968</text><text class="gy"><tspan x="-8" y="6">0</tspan><tspan x="-8" y="61">20</tspan><tspan x="-8" y="115">40</tspan></text><text class="gx" y="157"><tspan x="1.4">0</tspan><tspan x="55.8">20</tspan><tspan x="110.2">40</tspan></text></g>
<g transform="translate(4040.3,1628.4)"><use href="#bg" fill="#808080"/><use href="#pr"/><text class="gt" x="68" y="-9">845969</text><text class="gy"><tspan x="-8" y="6">0</tspan><tspan x="-8" y="61">20</tspan><tspan x="-8" y="115">40</tspan></text><text class="gx" y="157"><tspan x="1.4">0</tspan><tspan x="55.8">20</tspan><tspan x="110.2">40</tspan></text></g>
<g transform="translate(4239,1628.4)"><use href="#bg" fill="#a0a0a0"/><use href="#pr"/><text class="gt" x="68" y="-9">845970</text><text class="gy"><tspan x="-8" y="6">0</tspan><tspan x="-8" y="61">20</tspan><tspan x="-8" y="115">40</tspan></text><text class="gx" y="157"><tspan x="1.4">0</tspan><tspan x="55.8">20</tspan><tspan x="110.2">40</tspan></text></g>

<!-- row 9 -->
<g transform="translate(2252,1823.7)"><use href="#bg" fill="#7a7a7a"/><use href="#pr"/><text class="gt" x="68" y="-9">845971</text><text class="gy"><tspan x="-8" y="6">0</tspan><tspan x="-8" y="61">20</tspan><tspan x="-8" y="115">40</tspan></text><text class="gx" y="157"><tspan x="1.4">0</tspan><tspan x="55.8">20</tspan><tspan x="110.2">40</tspan></text></g>
<g transform="translate(2450.7,1823.7)"><use href="#bg" fill="#868686"/><use href="#pr"/><text class="gt" x="68" y="-9">845972</text><text class="gy"><tspan x="-8" y="6">0</tspan><tspan x="-8" y="61">20</tspan><tspan x="-8" y="115">40</tspan></text><text class="gx" y="157"><tspan x="1.4">0</tspan><tspan x="55.8">20</tspan><tspan x="110.2">40</tspan></text></g>
<g transform="translate(2649.4,1823.7)"><use href="#bg" fill="#7a7a7a"/><use href="#pr"/><text class="gt" x="68" y="-9">845973</text><text class="gy"><tspan x="-8" y="6">0</tspan><tspan x="-8" y="61">20</tspan><tspan x="-8" y="115">40</tspan></text><text class="gx" y="157"><tspan x="1.4">0</tspan><tspan x="55.8">20</tspan><tspan x="110.2">40</tspan></text></g>
<g transform="translate(2848.1,1823.7)"><use href="#bg" fill="#8a8a8a"/><use href="#pr"/><text class="gt" x="68" y="-9">845974</text><text class="gy"><tspan x="-8" y="6">0</tspan><tspan x="-8" y="61">20</tspan><tspan x="-8" y="115">40</tspan></text><text class="gx" y="157"><tspan x="1.4">0</tspan><tspan x="55.8">20</tspan><tspan x="110.2">40</tspan></text></g>
<g transform="translate(3046.8,1823.7)"><use href="#bg" fill="#969696"/><use href="#pr"/><text class="gt" x="68" y="-9">845975</text><text class="gy"><tspan x="-8" y="6">0</tspan><tspan x="-8" y="61">20</tspan><tspan x="-8" y="115">40</tspan></text><text class="gx" y="157"><tspan x="1.4">0</tspan><tspan x="55.8">20</tspan><tspan x="110.2">40</tspan></text></g>
</svg>
<script>
(function(){
var fz=[287,190,400,476,245,470,460,543,397,412,
355,432,270,460,413,537,330,557,607,478,
351,455,441,466,418,418,418,430,452,545,
370,362,413,455,455,366,478,452,418,518,
413,290,350,472,355,527,418,500,455,480,
510,472,557,468,537,460,490,395,326,595,
440,472,537,380,478,397,472,472,464,384,
390,396,400,420,400,464,410,412,480,497,
384,296,476,549,451,384,330,472,326,438,
425,400,436,382,440,472,360,395,604,283,
625,187,494,456];
var mz=[191,56,360,478,132,478,457,592,356,389,
292,405,166,453,376,579,250,617,706,478,
284,449,427,469,385,385,385,406,436,592,
314,301,381,444,449,305,482,436,381,550,
376,196,284,474,284,567,385,520,449,490,
545,474,613,469,579,453,503,356,242,685,
415,474,583,330,482,351,474,474,457,334,
343,347,360,389,360,457,381,385,486,512,
334,204,482,600,440,334,250,474,246,423,
402,360,419,330,427,474,297,351,701,187,
735,52,507,444];
var sz=[382,200,385,364,243,340,297,411,280,356,
432,318,238,301,234,398,230,407,394,166,
175,243,213,196,196,191,255,508,394,365,
141,150,318,259,217,56,288,208,263,335,
179,166,238,259,158,276,56,225,69,44,
103,322,453,288,390,335,272,141,187,470,
318,230,267,208,348,411,348,365,305,339,
284,196,280,141,267,301,234,339,318,322,
369,356,436,592,466,394,301,386,297,394,
398,466,407,478,541,545,596,554,655,613,
727,600,672,697];
var det={},msk={},i;
for(i=0;i<=15;i++)det[i]=1;[20,26,27,30,61,65].forEach(function(k){det[k]=1;});
[0,1,2,3,4,5,6,7,13,20,30,35,73].forEach(function(k){msk[k]=1;});
var ns="http://www.w3.org/2000/svg",g=document.getElementById('plots');
function el(t,a){var e=document.createElementNS(ns,t);for(var k in a)e.setAttribute(k,a[k]);g.appendChild(e);return e;}
var B='#1f77b4',O='#ff7f0e';
function draw(off,oset){
 for(var pass=0;pass<2;pass++){
  var c=pass?O:B;
  for(var i=0;i<104;i++){
   if(!!oset[i]!==(pass===1))continue;
   var x=233.3+8.06*i+off,fy=1740+fz[i]/3,sy=2330+sz[i]/3;
   var flux=3000-(fy-1823.3)/0.1617,snr=20-(sy-2394)/16.53,e=flux/snr*0.1617;
   el('line',{x1:x,x2:x,y1:fy-e,y2:fy+e,stroke:c,'stroke-width':5});
  }
  for(var j=0;j<104;j++){
   if(!!oset[j]!==(pass===1))continue;
   var xx=233.3+8.06*j+off;
   el('circle',{cx:xx,cy:1740+fz[j]/3,r:4.3,fill:c});
   el('circle',{cx:xx,cy:2035+mz[j]/3,r:4.3,fill:c});
   el('circle',{cx:xx,cy:2330+sz[j]/3,r:4.3,fill:c});
  }
 }
}
draw(0,det);draw(1059,msk);
})();
</script>
</body></html>
